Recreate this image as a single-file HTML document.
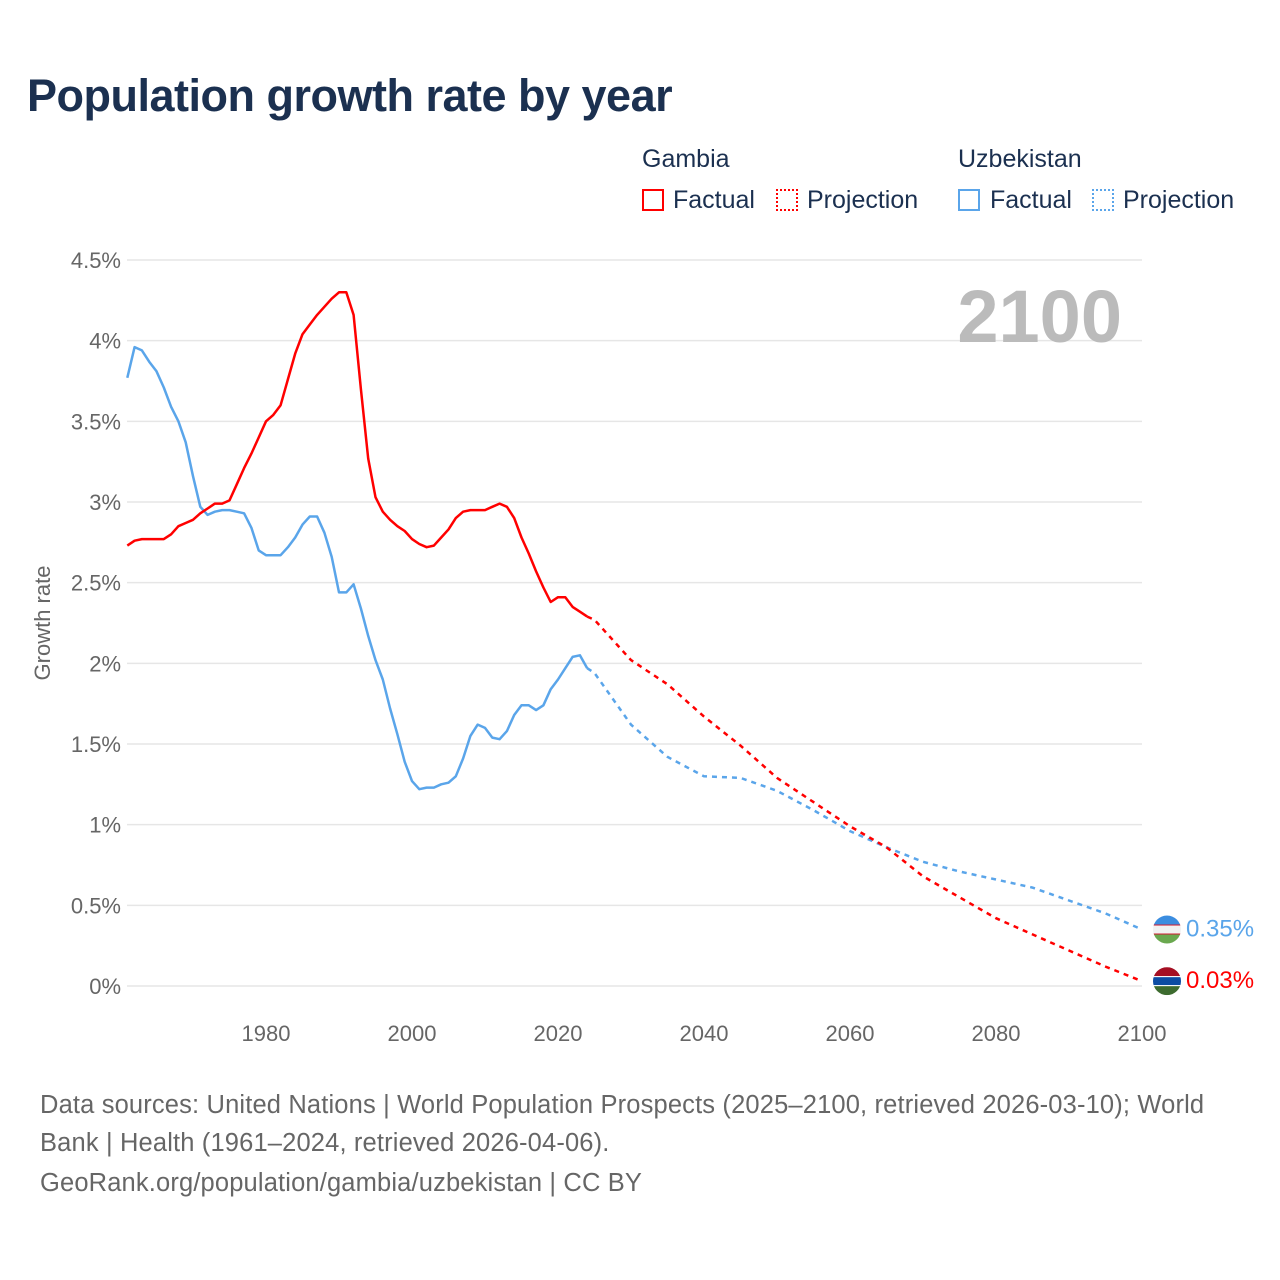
<!DOCTYPE html>
<html><head><meta charset="utf-8"><style>
body{margin:0;background:#fff;font-family:"Liberation Sans",sans-serif;}
#wrap{position:relative;width:1280px;height:1280px;overflow:hidden;background:#fff;}
h1{position:absolute;left:27px;top:70px;margin:0;font-size:45px;font-weight:bold;color:#1b3050;letter-spacing:-0.5px;}
.t{position:absolute;color:#1b3050;font-size:25px;}
.box{position:absolute;width:22px;height:22px;box-sizing:border-box;}
.src{position:absolute;left:40px;color:#666;font-size:25.5px;line-height:38px;letter-spacing:0.15px;white-space:nowrap;}
</style></head><body>
<div id="wrap">
<h1>Population growth rate by year</h1>
<div class="t" style="left:642px;top:145px">Gambia</div>
<div class="t" style="left:958px;top:145px">Uzbekistan</div>
<div class="box" style="left:642px;top:189px;border:2px solid #f00"></div>
<div class="t" style="left:673px;top:186px">Factual</div>
<div class="box" style="left:776px;top:189px;border:2px dotted #f00"></div>
<div class="t" style="left:807px;top:186px">Projection</div>
<div class="box" style="left:958px;top:189px;border:2px solid #5aa5ea"></div>
<div class="t" style="left:990px;top:186px">Factual</div>
<div class="box" style="left:1092px;top:189px;border:2px dotted #5aa5ea"></div>
<div class="t" style="left:1123px;top:186px">Projection</div>
<svg id="chart" width="1280" height="1280" style="position:absolute;left:0;top:0"></svg>
<div class="src" style="top:1086px">Data sources: United Nations | World Population Prospects (2025–2100, retrieved 2026-03-10); World<br>Bank | Health (1961–2024, retrieved 2026-04-06).</div>
<div class="src" style="top:1164px">GeoRank.org/population/gambia/uzbekistan | CC BY</div>
</div>
<script>
const yTicks=[0,0.5,1,1.5,2,2.5,3,3.5,4,4.5];
const yTickLabels=["0%","0.5%","1%","1.5%","2%","2.5%","3%","3.5%","4%","4.5%"];
const xTicks=[1980,2000,2020,2040,2060,2080,2100];
const factYears=[];for(let y=1961;y<=2024;y++)factYears.push(y);
const projYears=[2024,2025,2030,2035,2040,2045,2050,2055,2060,2065,2070,2075,2080,2085,2090,2095,2100];
const gambiaFact=[2.73,2.76,2.77,2.77,2.77,2.77,2.80,2.85,2.87,2.89,2.93,2.96,2.99,2.99,3.01,3.11,3.21,3.30,3.40,3.50,3.54,3.60,3.76,3.92,4.04,4.10,4.16,4.21,4.26,4.30,4.30,4.16,3.70,3.27,3.03,2.94,2.89,2.85,2.82,2.77,2.74,2.72,2.73,2.78,2.83,2.90,2.94,2.95,2.95,2.95,2.97,2.99,2.97,2.90,2.78,2.68,2.57,2.47,2.38,2.41,2.41,2.35,2.32,2.29];
const gambiaProj=[2.29,2.27,2.02,1.87,1.67,1.49,1.29,1.14,0.99,0.86,0.68,0.55,0.42,0.32,0.22,0.12,0.03];
const uzbFact=[3.77,3.96,3.94,3.87,3.81,3.71,3.59,3.50,3.37,3.16,2.97,2.92,2.94,2.95,2.95,2.94,2.93,2.84,2.70,2.67,2.67,2.67,2.72,2.78,2.86,2.91,2.91,2.81,2.66,2.44,2.44,2.49,2.34,2.17,2.02,1.90,1.72,1.56,1.39,1.27,1.22,1.23,1.23,1.25,1.26,1.30,1.41,1.55,1.62,1.60,1.54,1.53,1.58,1.68,1.74,1.74,1.71,1.74,1.84,1.90,1.97,2.04,2.05,1.97];
const uzbProj=[1.97,1.94,1.62,1.42,1.30,1.29,1.21,1.09,0.96,0.86,0.77,0.71,0.66,0.61,0.53,0.45,0.35];
const gambiaLast="0.03%", uzbLast="0.35%";

const NS="http://www.w3.org/2000/svg";
const svg=document.getElementById('chart');
const X=y=>127.3+(y-1961)*7.3;
const Y=v=>986-v*161.33;
function mk(tag,attrs,parent){const e=document.createElementNS(NS,tag);for(const k in attrs)e.setAttribute(k,attrs[k]);(parent||svg).appendChild(e);return e;}
yTicks.forEach((v,i)=>{
  const l=mk('line',{x1:127,x2:1142,y1:Y(v),y2:Y(v),stroke:'#e6e6e6','stroke-width':1.5});
  
  
  const t=mk('text',{x:121,y:Y(v)+8,'text-anchor':'end','font-size':22,fill:'#666','font-family':'Liberation Sans, sans-serif'});
  t.textContent=yTickLabels[i];
  
  
});
xTicks.forEach(v=>{
  const t=mk('text',{x:X(v),y:1041,'text-anchor':'middle','font-size':22,fill:'#666','font-family':'Liberation Sans, sans-serif'});
  t.textContent=v;
  
  
});
const yt=mk('text',{x:0,y:0,transform:'translate(50,623) rotate(-90)','text-anchor':'middle','font-size':22,fill:'#666','font-family':'Liberation Sans, sans-serif'});
yt.textContent='Growth rate';


const yr=mk('text',{x:1122,y:342,'text-anchor':'end','font-size':74,'font-weight':'bold',fill:'#bbb','font-family':'Liberation Sans, sans-serif'});
yr.textContent='2100';


function pts(xs,vs){return xs.map((x,i)=>X(x).toFixed(1)+','+Y(vs[i]).toFixed(1)).join(' ');}
let p;
p=mk('polyline',{points:pts(projYears,uzbProj),fill:'none',stroke:'#5aa5ea','stroke-width':2.5,'stroke-dasharray':'5,5'});


p=mk('polyline',{points:pts(projYears,gambiaProj),fill:'none',stroke:'#f00','stroke-width':2.5,'stroke-dasharray':'5,5'});


p=mk('polyline',{points:pts(factYears,uzbFact),fill:'none',stroke:'#5aa5ea','stroke-width':2.5,'stroke-linejoin':'round'});


p=mk('polyline',{points:pts(factYears,gambiaFact),fill:'none',stroke:'#f00','stroke-width':2.5,'stroke-linejoin':'round'});


function flag(cy,stripes,name){
  const g=mk('g',{});
  
  
  const id='c'+name;
  const cp=mk('clipPath',{id:id},g);mk('circle',{cx:1167,cy:cy,r:14},cp);
  const gg=mk('g',{'clip-path':'url(#'+id+')'},g);
  let y=cy-14;stripes.forEach(s=>{mk('rect',{x:1150,y:y,width:34,height:s[1],fill:s[0]},gg);y+=s[1];});
}
const uy=Y(uzbProj[uzbProj.length-1]), gy=Y(gambiaProj[gambiaProj.length-1]);
flag(uy,[['#3b8de0',9],['#ce1126',1],['#f2f2f2',8],['#ce1126',1],['#6aa84f',9]],'uzbekistan-flag');
flag(gy,[['#a50f23',9],['#fff',1],['#0c4ca3',8],['#fff',1],['#3d6b2f',9]],'gambia-flag');
let lt=mk('text',{x:1186,y:uy+7,'font-size':24,fill:'#5aa5ea','font-family':'Liberation Sans, sans-serif'});
lt.textContent=uzbLast;


lt=mk('text',{x:1186,y:gy+7,'font-size':24,fill:'#f00','font-family':'Liberation Sans, sans-serif'});
lt.textContent=gambiaLast;


</script>
</body></html>
